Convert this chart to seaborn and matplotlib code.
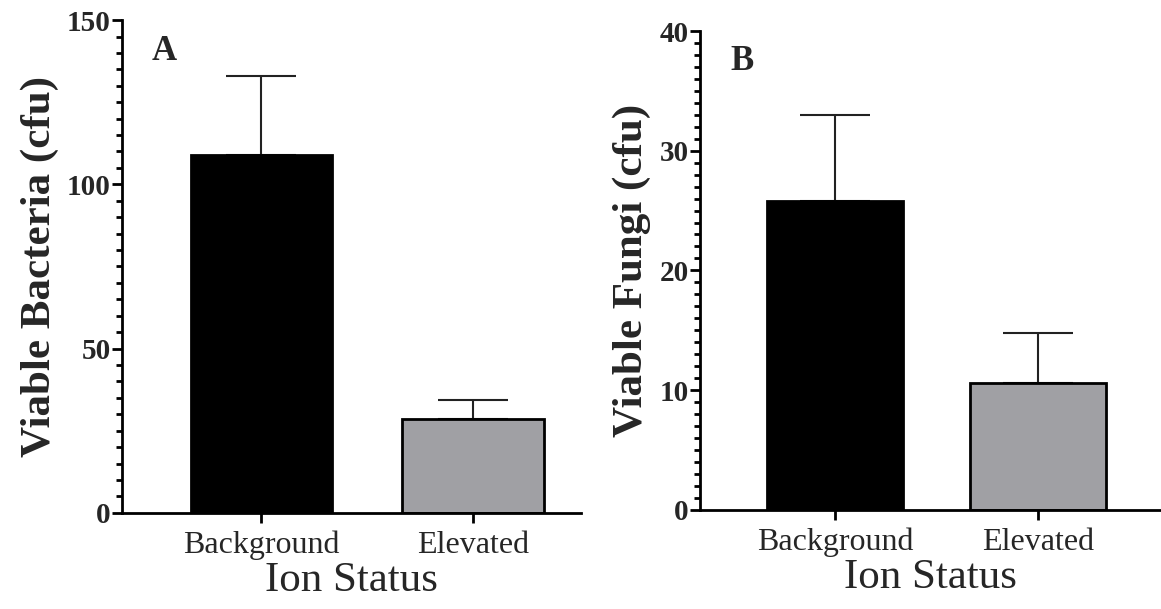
import matplotlib
matplotlib.use("Agg")
import matplotlib.pyplot as plt
import seaborn as sns
import pandas as pd
from matplotlib.ticker import MultipleLocator

categories = ["Background", "Elevated"]
bacteria_mean = [109, 28.7]
bacteria_sd = [24, 5.5]
fungi_mean = [25.8, 10.6]
fungi_sd = [7.2, 4.2]
bar_colors = ["#000000", "#a0a0a4"]

sns.set_theme(style="ticks")
plt.rcParams["font.family"] = ["Liberation Serif", "DejaVu Serif"]

fig = plt.figure(figsize=(11.61, 6.09), dpi=100)
axA = fig.add_axes([0.105, 0.158, 0.395, 0.809])
axB = fig.add_axes([0.603, 0.163, 0.396, 0.786])

panels = [
    (axA, bacteria_mean, bacteria_sd, "Viable Bacteria (cfu)", 150, 50, 5, "A", (-0.66, 1.51)),
    (axB, fungi_mean, fungi_sd, "Viable Fungi (cfu)", 40, 10, 1, "B", (-0.665, 1.60)),
]

for ax, means, sds, ylabel, ymax, major, minor, letter, xlim in panels:
    df = pd.DataFrame({"status": categories, "value": means})
    sns.barplot(data=df, x="status", y="value", hue="status", palette=bar_colors,
                order=categories, hue_order=categories, width=0.67, legend=False,
                edgecolor="black", linewidth=2, errorbar=None, ax=ax)
    ax.errorbar(range(len(categories)), means, yerr=[[0] * len(sds), sds],
                fmt="none", ecolor="#222222", elinewidth=1.5, capsize=25,
                capthick=1.5, zorder=1)
    for p in ax.patches:
        p.set_zorder(2)
    ax.set_ylim(0, ymax)
    ax.set_xlim(*xlim)
    ax.yaxis.set_major_locator(MultipleLocator(major))
    ax.yaxis.set_minor_locator(MultipleLocator(minor))
    sns.despine(ax=ax)
    for s in ["left", "bottom"]:
        ax.spines[s].set_linewidth(2)
        ax.spines[s].set_color("black")
    ax.tick_params(axis="y", which="major", length=7, width=2, color="black",
                   labelsize=21, pad=1)
    ax.tick_params(axis="y", which="minor", length=4, width=2, color="black")
    ax.tick_params(axis="x", which="major", length=7, width=2, color="black",
                   labelsize=23, pad=6)
    for lab in ax.get_yticklabels():
        lab.set_fontweight("bold")
    ax.set_ylabel(ylabel, fontsize=31, fontweight="bold", labelpad=6)
    ax.set_xlabel("Ion Status", fontsize=31, labelpad=1)
    ax.text(0.065, 0.97, letter, transform=ax.transAxes, fontsize=25,
            fontweight="bold", va="top", ha="left")

fig.savefig("out.png", dpi=100)
